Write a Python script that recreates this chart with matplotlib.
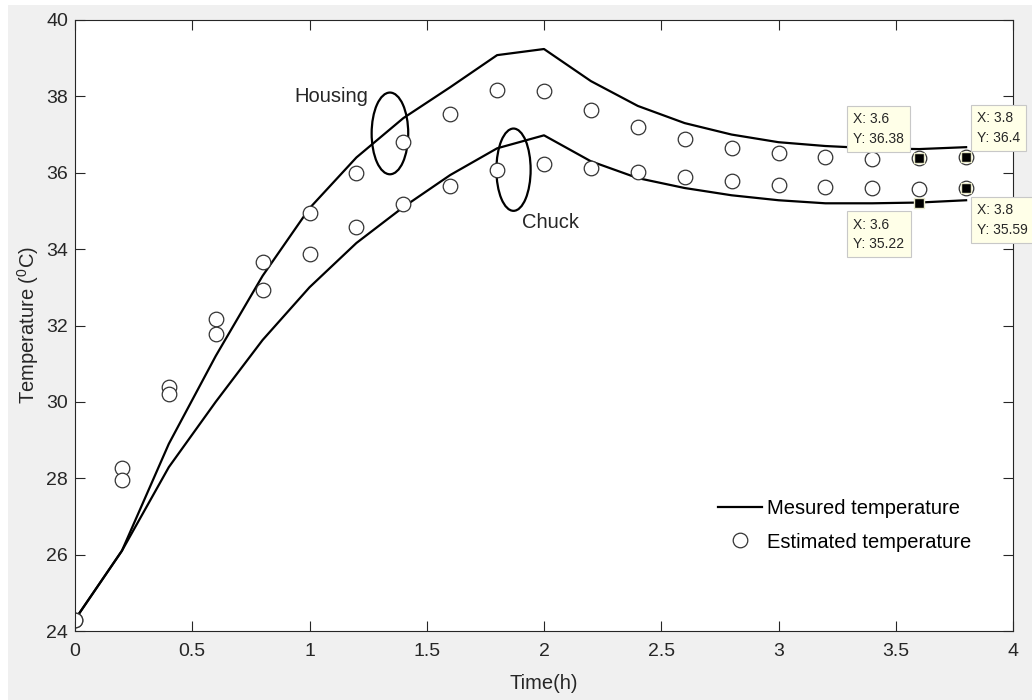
import numpy as np
import matplotlib
matplotlib.use("Agg")
import matplotlib.pyplot as plt
from matplotlib.patches import Ellipse, Rectangle
from matplotlib.ticker import FormatStrFormatter

plt.rcParams['font.family'] = ['Liberation Sans', 'DejaVu Sans']
plt.rcParams['mathtext.fontset'] = 'custom'
plt.rcParams['mathtext.rm'] = 'Liberation Sans'
plt.rcParams['mathtext.it'] = 'Liberation Sans:italic'

# time (h)
t = [0, 0.2, 0.4, 0.6, 0.8, 1.0, 1.2, 1.4, 1.6, 1.8, 2.0,
     2.2, 2.4, 2.6, 2.8, 3.0, 3.2, 3.4, 3.6, 3.8]

# measured temperatures
housing_meas = [24.3, 26.1, 28.9, 31.2, 33.3, 35.07, 36.4, 37.43, 38.24, 39.08, 39.24,
                38.4, 37.75, 37.3, 37.0, 36.8, 36.7, 36.64, 36.62, 36.67]
chuck_meas = [24.3, 26.1, 28.29, 30.0, 31.62, 33.0, 34.16, 35.1, 35.94, 36.64, 36.98,
              36.3, 35.86, 35.6, 35.41, 35.28, 35.2, 35.2, 35.22, 35.28]

# estimated temperatures
housing_est = [24.3, 28.27, 30.39, 32.17, 33.66, 34.94, 35.99, 36.8, 37.53, 38.16, 38.14,
               37.64, 37.19, 36.88, 36.64, 36.51, 36.41, 36.35, 36.38, 36.4]
chuck_est = [24.3, 27.95, 30.2, 31.77, 32.93, 33.87, 34.58, 35.18, 35.65, 36.07, 36.22,
             36.12, 36.02, 35.88, 35.78, 35.67, 35.62, 35.6, 35.57, 35.59]

# data tips: (x, y, offset of text in pixels)
tips = [(3.6, 36.38, (-66, 46)),
        (3.8, 36.4, (11, 46)),
        (3.6, 35.22, (-66, -15)),
        (3.8, 35.59, (11, -15))]

fig = plt.figure(figsize=(10.32, 7.0), dpi=100, facecolor='#f0f0f0')
# thin white screenshot border on the left and top
fig.patches.append(Rectangle((0, 0), 8 / 1032, 1, transform=fig.transFigure,
                             fc='white', ec='none', zorder=-1))
fig.patches.append(Rectangle((0, 1 - 5 / 700), 1, 5 / 700, transform=fig.transFigure,
                             fc='white', ec='none', zorder=-1))
ax = fig.add_axes([75 / 1032, 69 / 700, 938 / 1032, 611 / 700])

ax.plot(t, housing_meas, color='black', lw=1.6, label='Mesured temperature')
ax.plot(t, chuck_meas, color='black', lw=1.6)
ax.plot(t, housing_est, ls='none', marker='o', ms=10.5, mfc='white', mec='#333333',
        mew=0.9, label='Estimated temperature')
ax.plot(t, chuck_est, ls='none', marker='o', ms=10.5, mfc='white', mec='#333333', mew=0.9)

# ellipses and labels
ax.add_patch(Ellipse((1.343, 37.03), 0.156, 2.14, fill=False, ec='black', lw=1.6))
ax.add_patch(Ellipse((1.870, 36.08), 0.146, 2.155, fill=False, ec='black', lw=1.6))
ax.text(0.936, 37.99, 'Housing', fontsize=14.5, va='center', ha='left', color='#262626')
ax.text(1.906, 34.71, 'Chuck', fontsize=14.5, va='center', ha='left', color='#262626')

for x, y, off in tips:
    ax.plot(x, y, marker='s', ms=7, color='black', mec='#e8e8c8', mew=1.0,
            zorder=5, clip_on=False)
    ax.annotate('X: %g\nY: %g' % (x, y), xy=(x, y), xytext=off,
                textcoords='offset pixels', ha='left', va='top', fontsize=10,
                color='#262626', linespacing=1.5, annotation_clip=False,
                bbox=dict(boxstyle='square,pad=0.45', fc='#ffffe8', ec='#c8c8c8', lw=0.8),
                zorder=6)

ax.set_xlim(0, 4)
ax.set_ylim(24, 40)
ax.set_xticks(np.arange(0, 4.01, 0.5))
ax.set_yticks(np.arange(24, 40.1, 2))
ax.xaxis.set_major_formatter(FormatStrFormatter('%g'))
ax.tick_params(direction='in', length=7, width=0.8, top=True, right=True,
               labelsize=14, colors='#262626')
ax.tick_params(axis='x', pad=9)
ax.tick_params(axis='y', pad=5)
for s in ax.spines.values():
    s.set_color('#262626')
    s.set_linewidth(0.8)

ax.set_xlabel('Time(h)', fontsize=14.5, color='#262626', labelpad=10)
ax.set_ylabel('Temperature ($^0$C)', fontsize=14.5, color='#262626', labelpad=4)

ax.legend(loc='upper left', bbox_to_anchor=(0.6855, 0.216), frameon=False,
          fontsize=14.5, handlelength=2.2, handletextpad=0.25, labelspacing=0.72,
          borderpad=0, borderaxespad=0)

fig.savefig('out.png', dpi=100, facecolor=fig.get_facecolor())
